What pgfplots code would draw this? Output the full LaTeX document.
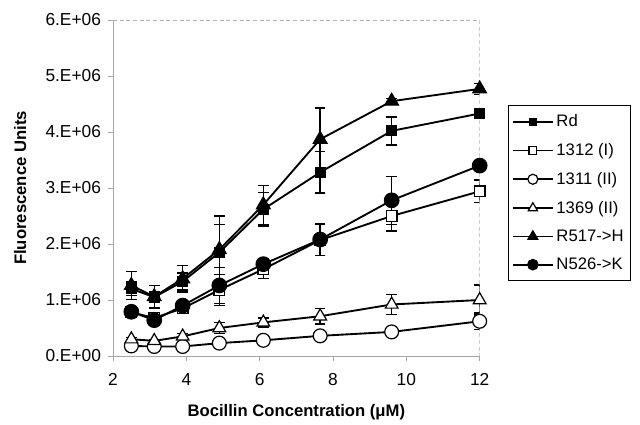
\documentclass[border=0pt]{standalone}
\usepackage{fontspec}
\setmainfont{Liberation Sans}
\usepackage{pgfplots}
\pgfplotsset{compat=1.18}
\begin{document}
\begin{tikzpicture}
\begin{axis}[
    scale only axis,
    width=275pt, height=252pt,
    xmin=2, xmax=12, ymin=0, ymax=6,
    xtick={2,4,...,12},
    ytick={0,1,...,6},
    yticklabels={0.E+00,1.E+06,2.E+06,3.E+06,4.E+06,5.E+06,6.E+06},
    axis lines=left,
    axis line style={-, draw=gray!70, line width=0.6pt},
    tick style={draw=gray!70, line width=0.6pt},
    tick align=outside,
    major tick length=3.5pt,
    tick label style={font=\fontsize{13}{15}\selectfont},
    /pgf/number format/assume math mode=true,
    xticklabel style={yshift=-6pt},
    yticklabel style={xshift=-2pt},
    xlabel={Bocillin Concentration (μM)},
    ylabel={Fluorescence Units},
    label style={font=\fontsize{12.5}{14}\selectfont\bfseries},
    xlabel style={at={(axis description cs:0.5,-0.167)}, anchor=center},
    ylabel style={at={(axis description cs:-0.253,0.5)}, anchor=center},
    legend style={at={(1.076,0.747)}, anchor=north west, draw=black,
        line width=0.6pt, font=\fontsize{12.5}{14}\selectfont,
        row sep=7pt, inner xsep=3pt, inner ysep=5pt},
    legend cell align=left,
    legend image code/.code={\draw[mark repeat=2,mark phase=2,#1,
        every mark/.append style={scale=0.72}]
        plot coordinates {(0pt,0pt)(15pt,0pt)(30pt,0pt)};},
    every axis plot/.append style={black, line width=1.4pt},
    error bars/y dir=both,
    error bars/y explicit,
    error bars/error bar style={line width=1pt, black},
    error bars/error mark options={rotate=90, mark size=4pt, line width=1pt, black},
]
% Rd
\addplot[mark=square*, mark size=3.8pt, mark options={solid, line width=0.8pt}] coordinates {
  (2.5,1.20) +- (0,0.12)
  (3.125,1.05) +- (0,0.10)
  (3.9,1.33) +- (0,0.15)
  (4.9,1.85) +- (0,0.50)
  (6.1,2.62) +- (0,0.30)
  (7.65,3.28) +- (0,0.37)
  (9.6,4.02) +- (0,0.25)
  (12,4.33) +- (0,0.06)
};
% 1312 (I)
\addplot[mark=square*, mark size=4pt, mark options={solid, fill=white, line width=0.9pt}] coordinates {
  (2.5,0.78) +- (0,0.05)
  (3.125,0.68) +- (0,0.05)
  (3.9,0.85) +- (0,0.05)
  (4.9,1.18) +- (0,0.28)
  (6.1,1.55) +- (0,0.17)
  (7.65,2.07) +- (0,0.28)
  (9.6,2.50) +- (0,0.27)
  (12,2.94) +- (0,0.20)
};
% 1311 (II)
\addplot[mark=*, mark size=5.2pt, mark options={solid, fill=white, line width=0.9pt}] coordinates {
  (2.5,0.18) +- (0,0.03)
  (3.125,0.17) +- (0,0.03)
  (3.9,0.17) +- (0,0.03)
  (4.9,0.23) +- (0,0.05)
  (6.1,0.28) +- (0,0.05)
  (7.65,0.36) +- (0,0.05)
  (9.6,0.43) +- (0,0.05)
  (12,0.62) +- (0,0.15)
};
% 1369 (II)
\addplot[mark=triangle*, mark size=5.5pt, mark options={solid, fill=white, line width=0.9pt}] coordinates {
  (2.5,0.30) +- (0,0.03)
  (3.125,0.27) +- (0,0.03)
  (3.9,0.35) +- (0,0.05)
  (4.9,0.50) +- (0,0.10)
  (6.1,0.60) +- (0,0.08)
  (7.65,0.71) +- (0,0.14)
  (9.6,0.92) +- (0,0.18)
  (12,1.00) +- (0,0.27)
};
% R517->H
\addplot[mark=triangle*, mark size=6pt, mark options={solid, line width=0.8pt}] coordinates {
  (2.5,1.26) +- (0,0.25)
  (3.125,1.06) +- (0,0.20)
  (3.9,1.38) +- (0,0.24)
  (4.9,1.90) +- (0,0.60)
  (6.1,2.70) +- (0,0.35)
  (7.65,3.87) +- (0,0.56)
  (9.6,4.55) +- (0,0.05)
  (12,4.77) +- (0,0.10)
};
% N526->K
\addplot[mark=*, mark size=5.5pt, mark options={solid, line width=0.8pt}] coordinates {
  (2.5,0.79) +- (0,0.05)
  (3.125,0.64) +- (0,0.05)
  (3.9,0.90) +- (0,0.05)
  (4.9,1.26) +- (0,0.32)
  (6.1,1.64) +- (0,0.10)
  (7.65,2.08) +- (0,0.28)
  (9.6,2.78) +- (0,0.43)
  (12,3.40) +- (0,0.05)
};
\legend{Rd, 1312 (I), 1311 (II), 1369 (II), R517->H, N526->K}
\draw[gray!60, densely dashed, line width=0.5pt]
  (rel axis cs:0,1) -- (rel axis cs:1,1) -- (rel axis cs:1,0);
\coordinate (o) at (rel axis cs:0,0);
\end{axis}
\pgfresetboundingbox
\path[use as bounding box] ([shift={(-84.75pt,-51.75pt)}]o) rectangle ([shift={(395.25pt,267pt)}]o);
\end{tikzpicture}
\end{document}
